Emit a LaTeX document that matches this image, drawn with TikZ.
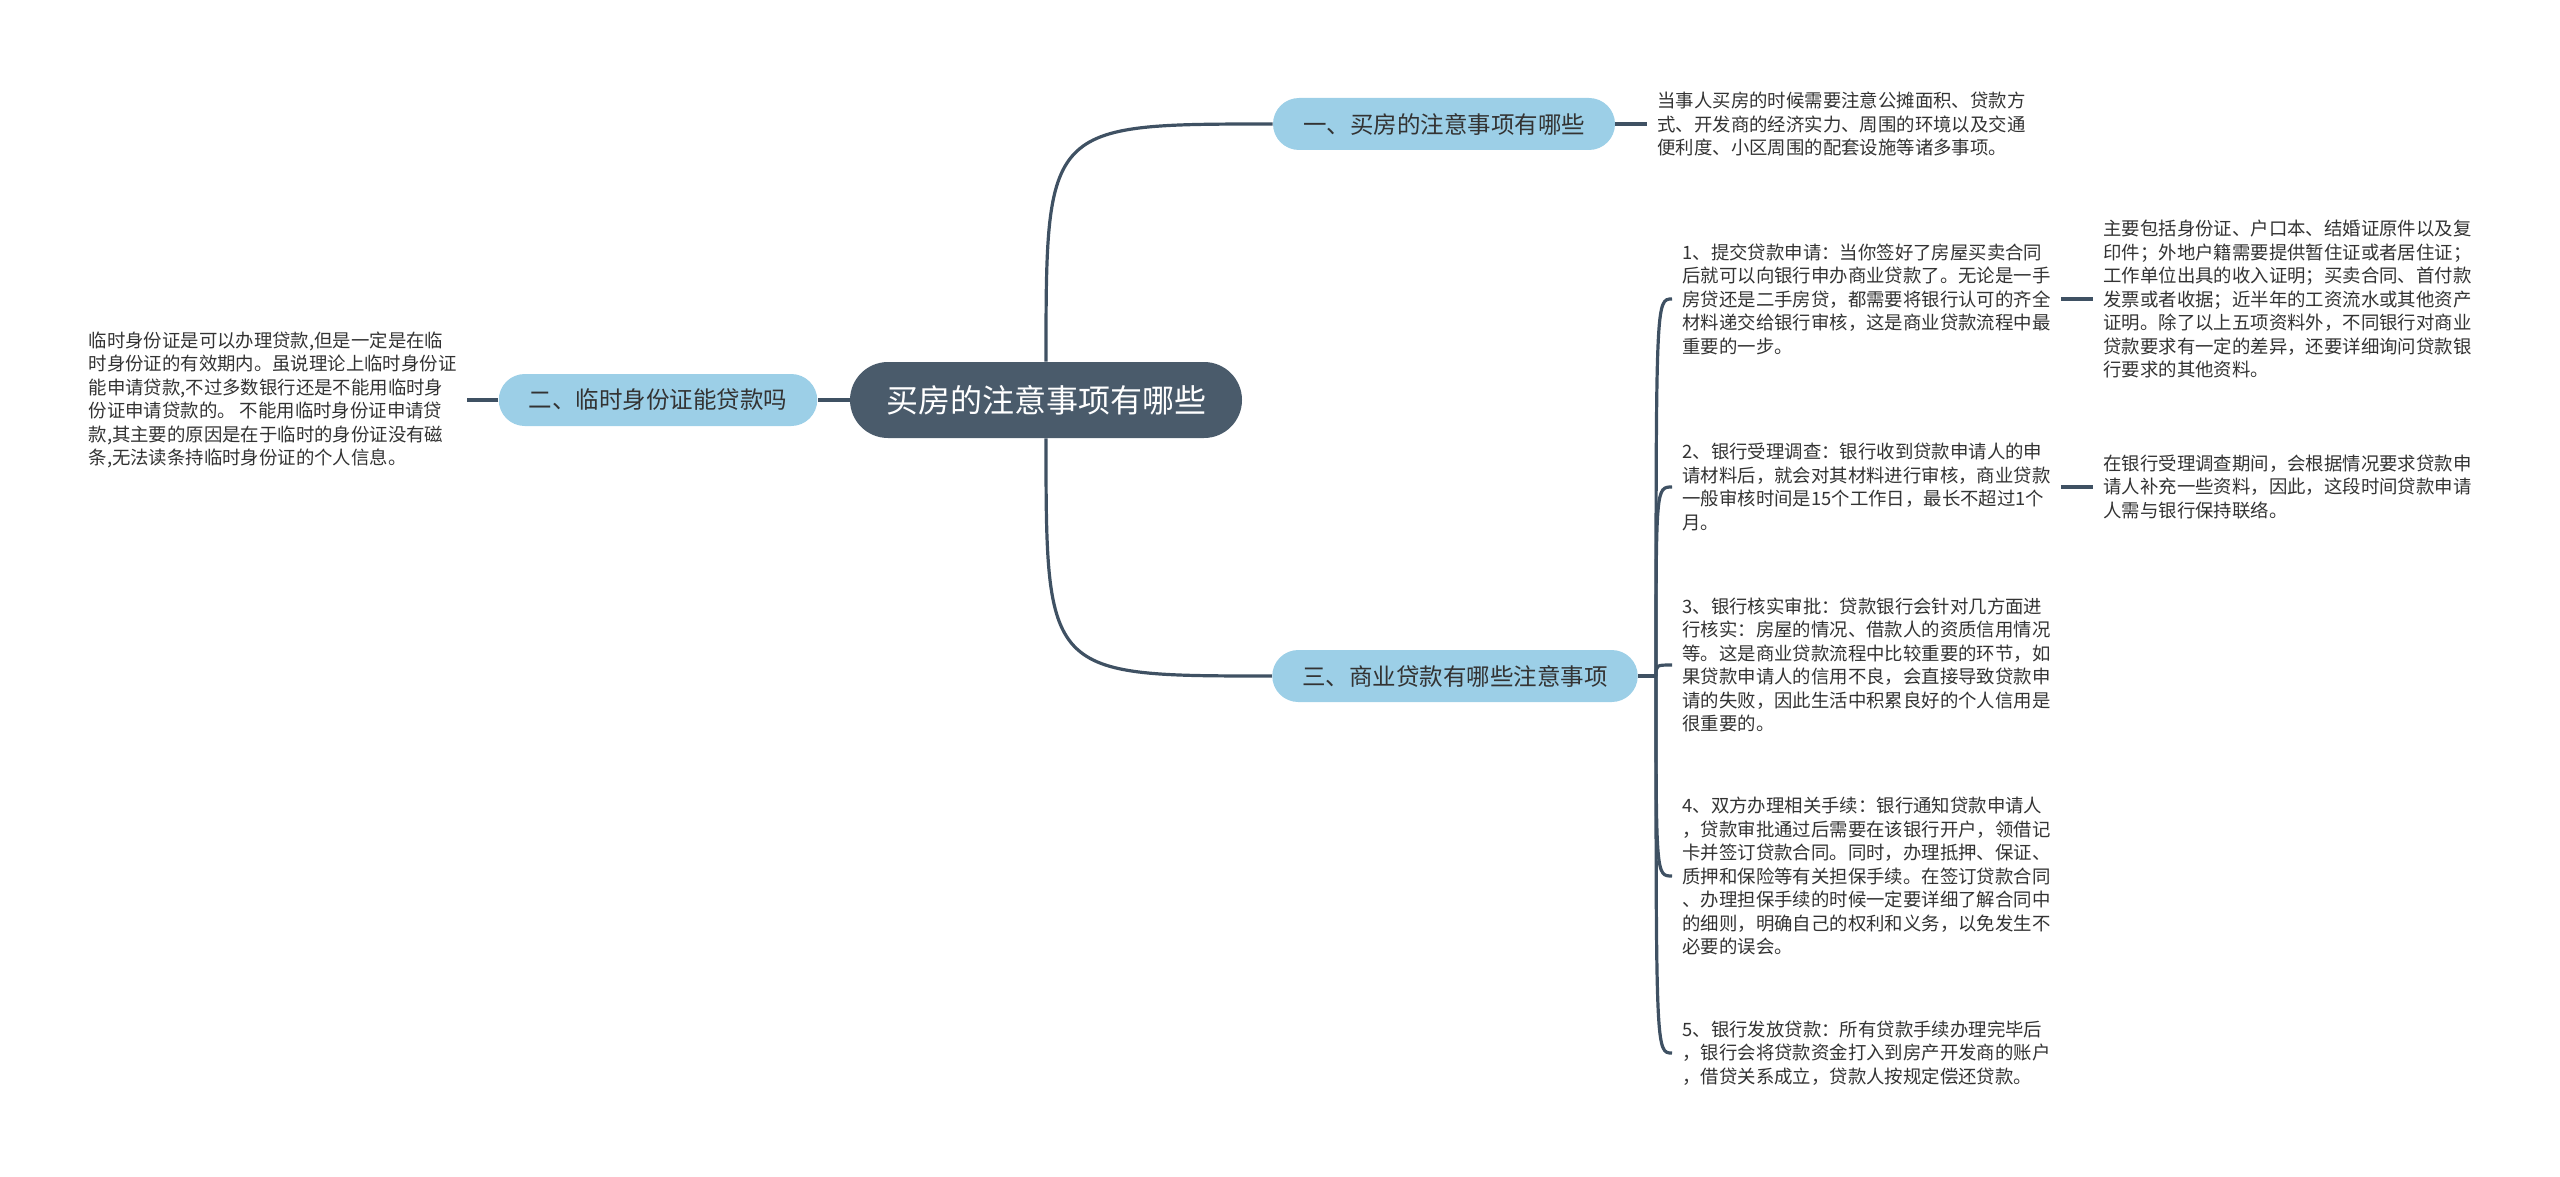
\documentclass[tikz,border=0pt]{standalone}
\usepackage{fontspec}
\setmainfont{Noto Sans CJK SC}
\definecolor{rootFill}{HTML}{4A5B6B}
\definecolor{branchBlue}{HTML}{9CCFE7}
\definecolor{lineSlate}{HTML}{3F5163}
\definecolor{textGray}{HTML}{333333}
\begin{document}
\begin{tikzpicture}[
    x=0.5pt, y=-0.5pt,
    mapLine/.style={draw=lineSlate, line width=1.6pt},
    mapRoot/.style={fill=rootFill, text=white, rounded corners=19pt,
                    inner xsep=18pt, inner ysep=0pt, minimum height=38pt,
                    font=\fontsize{16}{19}\selectfont},
    mapBranch/.style={fill=branchBlue, text=textGray, rounded corners=13pt,
                      inner xsep=15pt, inner ysep=0pt, minimum height=26pt,
                      font=\fontsize{11.75}{14}\selectfont},
    mapLeaf/.style={anchor=west, align=left, inner xsep=5pt, inner ysep=0pt,
                    text=textGray, font=\fontsize{9.2}{11.75}\selectfont}]
  \useasboundingbox (0,0) rectangle (2560,1177);

  \node[mapRoot] (root) at (1046,400) {买房的注意事项有哪些};
  \node[mapBranch] (buyTips) at (1444,124) {一、买房的注意事项有哪些};
  \node[mapBranch] (tempId) at (658,400) {二、临时身份证能贷款吗};
  \node[mapBranch] (loanTips) at (1455,676) {三、商业贷款有哪些注意事项};

  \node[mapLeaf] (buyNote) at (1647,124) {当事人买房的时候需要注意公摊面积、贷款方\\式、开发商的经济实力、周围的环境以及交通\\便利度、小区周围的配套设施等诸多事项。};
  \node[mapLeaf, anchor=east] (tempNote) at (467,400) {临时身份证是可以办理贷款,但是一定是在临\\时身份证的有效期内。虽说理论上临时身份证\\能申请贷款,不过多数银行还是不能用临时身\\份证申请贷款的。 不能用临时身份证申请贷\\款,其主要的原因是在于临时的身份证没有磁\\条,无法读条持临时身份证的个人信息。};

  \coordinate (loanFork) at (1656,676);
  \node[mapLeaf] (stepOne) at (1672,299) {1、提交贷款申请：当你签好了房屋买卖合同\\后就可以向银行申办商业贷款了。无论是一手\\房贷还是二手房贷，都需要将银行认可的齐全\\材料递交给银行审核，这是商业贷款流程中最\\重要的一步。};
  \node[mapLeaf] (stepOneNote) at (2093,299) {主要包括身份证、户口本、结婚证原件以及复\\印件；外地户籍需要提供暂住证或者居住证；\\工作单位出具的收入证明；买卖合同、首付款\\发票或者收据；近半年的工资流水或其他资产\\证明。除了以上五项资料外，不同银行对商业\\贷款要求有一定的差异，还要详细询问贷款银\\行要求的其他资料。};
  \node[mapLeaf] (stepTwo) at (1672,487) {2、银行受理调查：银行收到贷款申请人的申\\请材料后，就会对其材料进行审核，商业贷款\\一般审核时间是15个工作日，最长不超过1个\\月。};
  \node[mapLeaf] (stepTwoNote) at (2093,487) {在银行受理调查期间，会根据情况要求贷款申\\请人补充一些资料，因此，这段时间贷款申请\\人需与银行保持联络。};
  \node[mapLeaf] (stepThree) at (1672,665) {3、银行核实审批：贷款银行会针对几方面进\\行核实：房屋的情况、借款人的资质信用情况\\等。这是商业贷款流程中比较重要的环节，如\\果贷款申请人的信用不良，会直接导致贷款申\\请的失败，因此生活中积累良好的个人信用是\\很重要的。};
  \node[mapLeaf] (stepFour) at (1672,876) {4、双方办理相关手续：银行通知贷款申请人\\，贷款审批通过后需要在该银行开户，领借记\\卡并签订贷款合同。同时，办理抵押、保证、\\质押和保险等有关担保手续。在签订贷款合同\\、办理担保手续的时候一定要详细了解合同中\\的细则，明确自己的权利和义务，以免发生不\\必要的误会。};
  \node[mapLeaf] (stepFive) at (1672,1053) {5、银行发放贷款：所有贷款手续办理完毕后\\，银行会将贷款资金打入到房产开发商的账户\\，借贷关系成立，贷款人按规定偿还贷款。};

  \draw[mapLine] (root.north) .. controls (root.north |- buyTips.west) .. (buyTips.west);
  \draw[mapLine] (root.south) .. controls (root.south |- loanTips.west) .. (loanTips.west);
  \draw[mapLine] (root.west) -- (tempId.east);
  \draw[mapLine] (buyTips.east) -- (buyNote.west);
  \draw[mapLine] (tempId.west) -- (tempNote.east);
  \draw[mapLine] (loanTips.east) -- (loanFork);
  \foreach \stepName in {stepOne,stepTwo,stepThree,stepFour,stepFive}
    \draw[mapLine] (loanFork) .. controls (loanFork |- \stepName.west) .. (\stepName.west);
  \draw[mapLine] (stepOne.east) -- (stepOneNote.west);
  \draw[mapLine] (stepTwo.east) -- (stepTwoNote.west);
\end{tikzpicture}
\end{document}
